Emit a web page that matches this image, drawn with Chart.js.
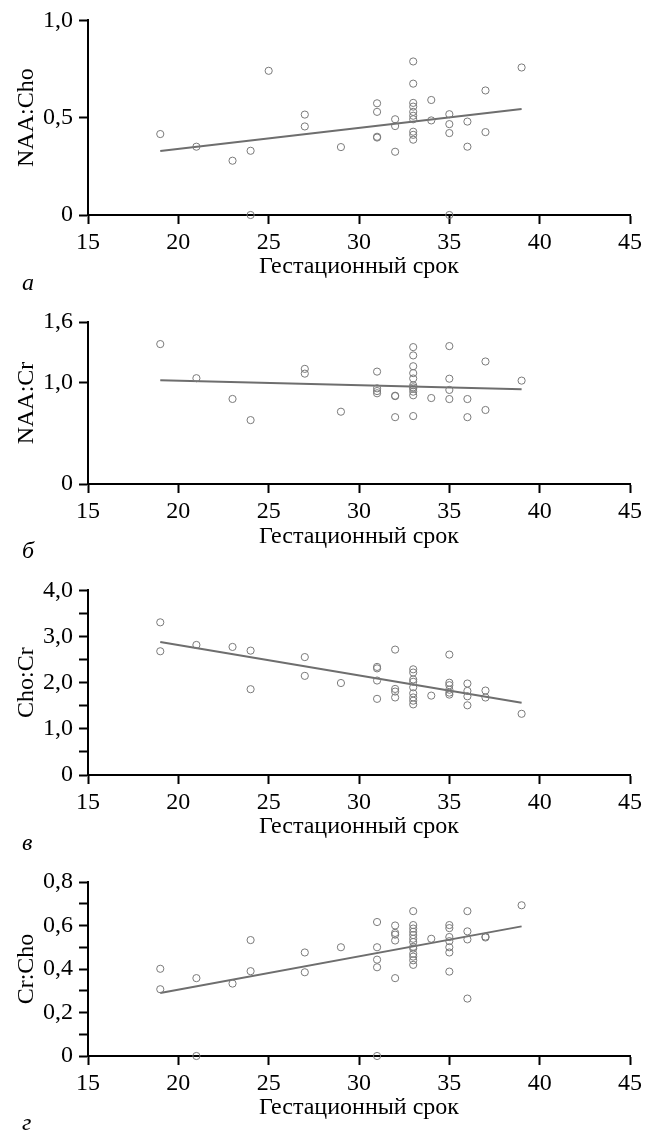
<!DOCTYPE html>
<html>
<head>
<meta charset="utf-8">
<script src="https://cdn.jsdelivr.net/npm/chart.js@4.4.0/dist/chart.umd.min.js"></script>
<style>
  html, body { margin: 0; padding: 0; background: #fff; }
  #page { position: relative; width: 656px; height: 1131px; overflow: hidden; }
  canvas { position: absolute; left: 0; }
  .tag { position: absolute; left: 22px; font: italic 24px "Liberation Serif", serif; line-height: 24px; color: #000; }
</style>
</head>
<body>
<div id="page">
  <canvas id="chartA" width="656" height="281" style="top:0px"></canvas>
  <canvas id="chartB" width="656" height="261" style="top:290px"></canvas>
  <canvas id="chartC" width="656" height="271" style="top:570px"></canvas>
  <canvas id="chartD" width="656" height="262" style="top:860px"></canvas>
  <div class="tag" style="top:270px">а</div>
  <div class="tag" style="top:538px">б</div>
  <div class="tag" style="top:830px">в</div>
  <div class="tag" style="top:1110px">г</div>
</div>
<script>
// --- Data (gestational age in weeks, metabolite ratios) ---
const xTicks = [15, 20, 25, 30, 35, 40, 45];
const xTitle = 'Гестационный срок';

// a) NAA:Cho
const weeksA = [19, 21, 23, 24, 24, 25, 27, 27, 29, 31, 31, 31, 31, 32, 32, 32,
  33, 33, 33, 33, 33, 33, 33, 33, 33, 33, 34, 34, 35, 35, 35, 35, 36, 36, 37, 37, 39];
const naaCho = [0.416, 0.351, 0.279, 0.33, 0, 0.741, 0.516, 0.455, 0.349, 0.574, 0.53, 0.402, 0.398, 0.492, 0.457, 0.325,
  0.789, 0.675, 0.576, 0.557, 0.53, 0.51, 0.492, 0.428, 0.412, 0.387, 0.591, 0.486, 0.518, 0.467, 0.421, 0, 0.48, 0.351, 0.64, 0.426, 0.758];
const trendA = [0.329, 0.545];
const yTicksA = [0, 0.5, 1.0];

// b) NAA:Cr
const weeksB = [19, 21, 23, 24, 27, 27, 29, 31, 31, 31, 31, 32, 32, 32,
  33, 33, 33, 33, 33, 33, 33, 33, 33, 33, 33, 34, 35, 35, 35, 35, 36, 36, 37, 37, 39];
const naaCr = [1.382, 1.045, 0.84, 0.631, 1.137, 1.09, 0.714, 1.11, 0.945, 0.918, 0.896, 0.872, 0.868, 0.66,
  1.352, 1.27, 1.163, 1.095, 1.042, 0.975, 0.955, 0.94, 0.912, 0.876, 0.671, 0.849, 1.362, 1.04, 0.929, 0.839, 0.839, 0.66, 1.21, 0.731, 1.021];
const trendB = [1.025, 0.936];
const yTicksB = [0, 1.0, 1.6];

// c) Cho:Cr
const weeksC = [19, 19, 21, 23, 24, 24, 27, 27, 29, 31, 31, 31, 31, 32, 32, 32, 32,
  33, 33, 33, 33, 33, 33, 33, 33, 33, 34, 35, 35, 35, 35, 35, 35, 36, 36, 36, 36, 37, 37, 39];
const choCr = [3.308, 2.681, 2.818, 2.775, 2.695, 1.859, 2.555, 2.148, 1.993, 2.342, 2.31, 2.047, 1.65, 2.717, 1.865, 1.808, 1.68,
  2.29, 2.22, 2.07, 2.02, 1.9, 1.77, 1.68, 1.61, 1.53, 1.72, 2.609, 2.0, 1.946, 1.848, 1.785, 1.742, 1.982, 1.822, 1.705, 1.51, 1.83, 1.679, 1.326];
const trendC = [2.883, 1.564];
const yTicksC = [0, 0.5, 1.0, 1.5, 2.0, 2.5, 3.0, 3.5, 4.0];

// d) Cr:Cho
const weeksD = [19, 19, 21, 21, 23, 24, 24, 27, 27, 29, 31, 31, 31, 31, 31, 32, 32, 32, 32, 32,
  33, 33, 33, 33, 33, 33, 33, 33, 33, 33, 33, 33, 33, 34, 35, 35, 35, 35, 35, 35, 35, 36, 36, 36, 36, 37, 37, 39];
const crCho = [0.401, 0.307, 0.358, 0, 0.333, 0.533, 0.39, 0.476, 0.385, 0.5, 0.616, 0.5, 0.443, 0.408, 0, 0.6, 0.566, 0.558, 0.531, 0.358,
  0.666, 0.602, 0.586, 0.571, 0.556, 0.539, 0.524, 0.502, 0.494, 0.47, 0.457, 0.44, 0.419, 0.539, 0.602, 0.588, 0.547, 0.528, 0.5, 0.476, 0.388,
  0.666, 0.573, 0.536, 0.264, 0.549, 0.545, 0.693];
const trendD = [0.29, 0.596];
const yTicksD = [0, 0.1, 0.2, 0.3, 0.4, 0.5, 0.6, 0.7, 0.8];

const trendX = [19, 39];

// --- Shared styling ---
const FONT = { family: '"Liberation Serif", "Times New Roman", serif', size: 24 };
const AXIS_LEFT = 88;      // y axis pixel position
const PLOT_RIGHT_PAD = 26; // space right of x = 45

function fmt(v) {
  if (v === 0) return '0';
  return v.toFixed(1).replace('.', ',');
}

function makePanel(id, xs, ys, trend, yTicks, yMax, yTitle, padTop, axisH, labelFn) {
  const ctx = document.getElementById(id).getContext('2d');
  return new Chart(ctx, {
    type: 'scatter',
    data: {
      datasets: [
        {
          data: xs.map((x, i) => ({ x: x, y: ys[i] })),
          pointStyle: 'circle',
          pointRadius: 3.6,
          borderWidth: 1,
          borderColor: '#7a7a7a',
          backgroundColor: 'rgba(0,0,0,0)',
          clip: false
        },
        {
          type: 'line',
          data: trendX.map((x, i) => ({ x: x, y: trend[i] })),
          borderColor: '#6e6e6e',
          borderWidth: 2,
          pointRadius: 0,
          fill: false
        }
      ]
    },
    options: {
      responsive: false,
      animation: false,
      events: [],
      layout: { padding: { top: padTop, right: PLOT_RIGHT_PAD, left: 0, bottom: 0 } },
      plugins: { legend: { display: false }, tooltip: { enabled: false } },
      scales: {
        x: {
          type: 'linear',
          min: 15,
          max: 45,
          afterBuildTicks: s => { s.ticks = xTicks.map(v => ({ value: v })); },
          afterFit: s => { s.height = axisH; },
          grid: { drawOnChartArea: false, tickLength: 9, tickWidth: 2, color: '#000' },
          border: { color: '#000', width: 2 },
          ticks: { font: FONT, color: '#000', padding: 4, maxRotation: 0, autoSkip: false },
          title: { display: true, text: xTitle, font: FONT, color: '#000', padding: 0 }
        },
        y: {
          min: 0,
          max: yMax,
          afterBuildTicks: s => { s.ticks = yTicks.map(v => ({ value: v })); },
          afterFit: s => { s.width = AXIS_LEFT; },
          grid: { drawOnChartArea: false, tickLength: 9, tickWidth: 2, color: '#000' },
          border: { color: '#000', width: 2 },
          ticks: { font: FONT, color: '#000', padding: 6, autoSkip: false, callback: labelFn },
          title: { display: true, text: yTitle, font: FONT, color: '#000', padding: { top: 12.6, bottom: 0 } }
        }
      }
    }
  });
}

makePanel('chartA', weeksA, naaCho, trendA, yTicksA, 1.0, 'NAA:Cho', 19, 66, v => fmt(v));
makePanel('chartB', weeksB, naaCr, trendB, yTicksB, 1.6, 'NAA:Cr', 32, 67, v => fmt(v));
makePanel('chartC', weeksC, choCr, trendC, yTicksC, 4.0, 'Cho:Cr', 20, 66,
  v => (Math.abs(v - Math.round(v)) < 1e-6 ? fmt(v) : ''));
makePanel('chartD', weeksD, crCho, trendD, yTicksD, 0.8, 'Cr:Cho', 22, 66,
  v => (Math.round(v * 10) % 2 === 0 ? fmt(v) : ''));
</script>
</body>
</html>
